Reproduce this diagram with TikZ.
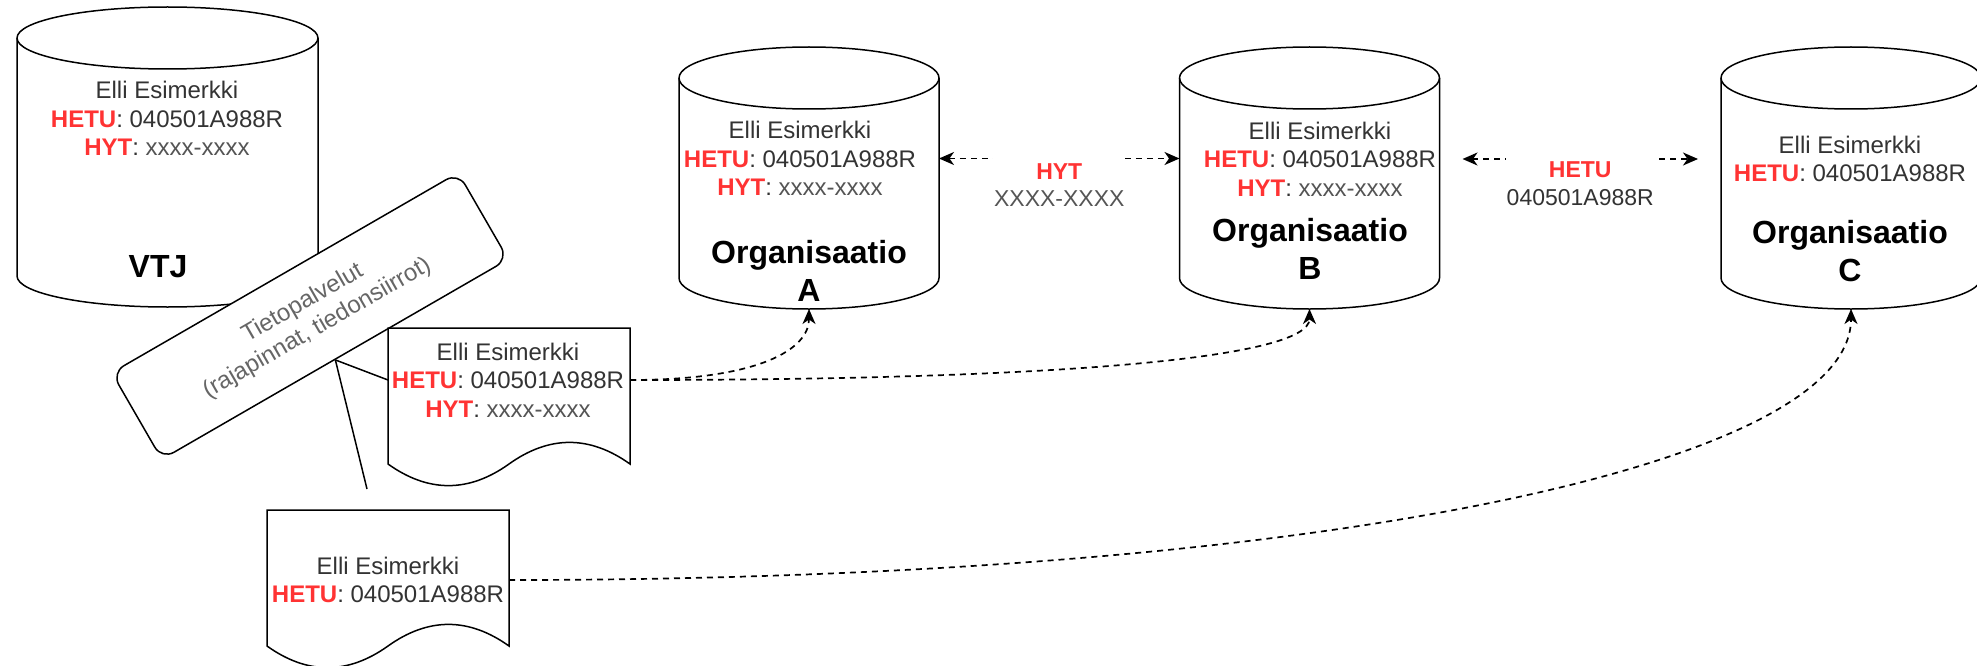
\documentclass[tikz,border=0pt]{standalone}
\usepackage{fontspec}
\setmainfont{Liberation Sans}
\usetikzlibrary{arrows.meta,calc}

\definecolor{hetured}{HTML}{FF3333}
\definecolor{textgray}{HTML}{333333}
\definecolor{xgray}{HTML}{555555}
\definecolor{boxgray}{HTML}{666666}

\newcommand{\hetu}{\textcolor{hetured}{\bfseries HETU}}
\newcommand{\hyt}{\textcolor{hetured}{\bfseries HYT}}
\newcommand{\xxxx}{\textcolor{xgray}{xxxx-xxxx}}

\tikzset{
  dbline/.style={draw=black, line width=1.5pt, fill=white},
  dbbox/.style={inner sep=0pt, outer sep=0pt},
  datatext/.style={align=center, text=textgray, inner sep=0pt, font=\fontsize{24}{28.5}\selectfont},
  nametext/.style={align=center, inner sep=0pt, font=\fontsize{32}{38}\selectfont\bfseries},
  svcbox/.style={draw, line width=1.5pt, fill=white, rounded corners=14pt, rotate=30,
    minimum width=400pt, minimum height=100pt, align=center, text=boxgray,
    font=\fontsize{24}{29}\selectfont},
  link/.style={draw, line width=1.5pt},
  flow/.style={draw, line width=1.7pt, dash pattern=on 6pt off 5pt},
  edgelabel/.style={align=center, fill=white, inner xsep=1pt, inner ysep=5pt,
    text=textgray, font=\fontsize{23}{27.5}\selectfont},
  >={Stealth[length=15pt, width=13pt, inset=4.5pt]},
}

% cylinder: name, centre x, centre y, width, height
\newcommand{\dbcyl}[5]{%
  \node[dbbox, minimum width=#4pt, minimum height=#5pt] (#1) at (#2,#3) {};
  \draw[dbline] (#2-#4/2,#3-#5/2+31) -- (#2-#4/2,#3+#5/2-31)
    arc[start angle=180, end angle=0, x radius=#4/2, y radius=31]
    -- (#2+#4/2,#3-#5/2+31)
    arc[start angle=0, end angle=-180, x radius=#4/2, y radius=31] -- cycle;
  \draw[dbline, fill=none] (#2-#4/2,#3-#5/2+31)
    arc[start angle=180, end angle=0, x radius=#4/2, y radius=31];
}

% document: name, left x, top y
\newcommand{\docshape}[3]{%
  \node[dbbox, minimum width=242pt, minimum height=160pt] (#1) at (#2+121,#3+80) {};
  \draw[dbline] (#2,#3) -- (#2+242,#3) -- (#2+242,#3+136)
    .. controls (#2+201.7,#3+107.2) and (#2+161.3,#3+107.2) .. (#2+121,#3+136)
    .. controls (#2+80.7,#3+164.8) and (#2+40.3,#3+164.8) .. (#2,#3+136) -- cycle;
}

\begin{document}
\begin{tikzpicture}[x=1pt, y=-1pt]
\useasboundingbox (0,0) rectangle (1977,666);
\clip (0,0) rectangle (1977,666);

\dbcyl{vtj}{167.5}{157}{301}{300}
\node[svcbox] (svc) at (310,316) {Tietopalvelut\\(rajapinnat, tiedonsiirrot)};
\docshape{docfull}{388}{328}
\docshape{dochetu}{267}{510}
\dbcyl{orga}{809}{178}{260}{262}
\dbcyl{orgb}{1309.5}{178}{260}{262}
\dbcyl{orgc}{1851}{178}{260}{262}

\node[datatext] (vtjdata) at (167,118.5) {Elli Esimerkki\\\hetu: 040501A988R\\\hyt: \xxxx};
\node[nametext] (vtjname) at (158,267) {VTJ};
\node[datatext] (orgadata) at (800,158.5) {Elli Esimerkki\\\hetu: 040501A988R\\\hyt: \xxxx};
\node[nametext] (organame) at (809,271) {Organisaatio\\A};
\node[datatext] (orgbdata) at (1320,159) {Elli Esimerkki\\\hetu: 040501A988R\\\hyt: \xxxx};
\node[nametext] (orgbname) at (1310,249) {Organisaatio\\B};
\node[datatext] (orgcdata) at (1850,159) {Elli Esimerkki\\\hetu: 040501A988R};
\node[nametext] (orgcname) at (1850,251) {Organisaatio\\C};
\node[datatext] (docfulldata) at (508,380) {Elli Esimerkki\\\hetu: 040501A988R\\\hyt: \xxxx};
\node[datatext] (dochetudata) at (388,580) {Elli Esimerkki\\\hetu: 040501A988R};

\coordinate (svcfoot) at (367,489);
\draw[link] (svc.south) -- (docfull.west |- docfulldata.center);
\draw[link] (svc.south) -- (svcfoot);

\draw[flow, ->] (docfull.east |- docfulldata.center) .. controls +(130,0) and +(0,40) .. (orga.south);
\draw[flow, ->] (docfull.east |- docfulldata.center) .. controls +(420,0) and +(0,50) .. (orgb.south);
\draw[flow, ->] (dochetu.east |- dochetudata.center) .. controls +(790,0) and +(0,160) .. (orgc.south);

\draw[flow, <->] (orga.east |- orgadata.center) -- node[edgelabel, yshift=-26.5pt] (hytlabel)
  {\hyt\\\textcolor{xgray}{XXXX-XXXX}} (orgb.west |- orgadata.center);
\draw[flow, <->] ($(orgb.east |- orgbdata.center)+(23,0)$) -- node[edgelabel, yshift=-24.5pt] (hetulabel)
  {\hetu\\040501A988R} ($(orgc.west |- orgbdata.center)+(-23,0)$);
\end{tikzpicture}
\end{document}
